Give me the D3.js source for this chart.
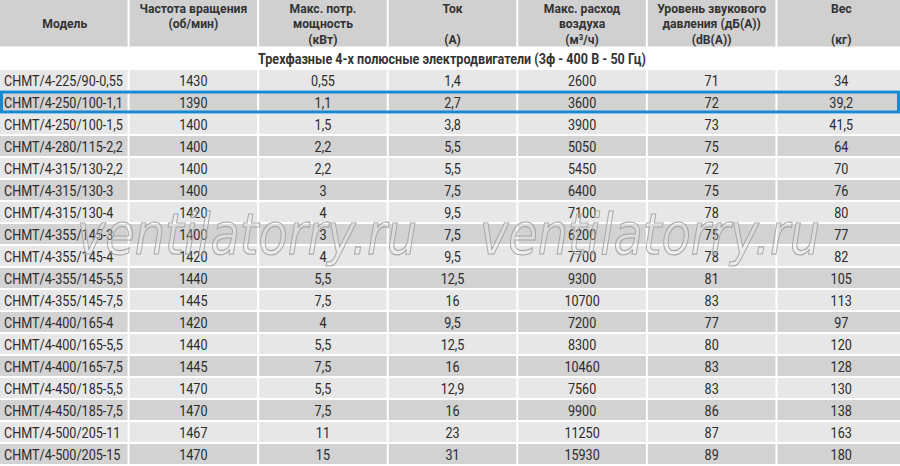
<!DOCTYPE html>
<html><head><meta charset="utf-8">
<script src="https://cdn.jsdelivr.net/npm/d3@7"></script>
<style>
html,body{margin:0;padding:0;background:#fff;}
svg{display:block;}
</style></head>
<body>
<script>
// ---- data ----
const columns = ["model","rpm","power","current","airflow","noise","weight"];
const headerLines = [
  ["", "Модель", ""],
  ["Частота вращения", "(об/мин)", ""],
  ["Макс. потр.", "мощность", "(кВт)"],
  ["Ток", "", "(А)"],
  ["Макс. расход", "воздуха", "(м³/ч)"],
  ["Уровень звукового", "давления (дБ(А))", "(dB(A))"],
  ["Вес", "", "(кг)"]
];
const sectionTitle = "Трехфазные 4-х полюсные электродвигатели (3ф - 400 В - 50 Гц)";
const models = ["CHMT/4-225/90-0,55","CHMT/4-250/100-1,1","CHMT/4-250/100-1,5","CHMT/4-280/115-2,2",
  "CHMT/4-315/130-2,2","CHMT/4-315/130-3","CHMT/4-315/130-4","CHMT/4-355/145-3","CHMT/4-355/145-4",
  "CHMT/4-355/145-5,5","CHMT/4-355/145-7,5","CHMT/4-400/165-4","CHMT/4-400/165-5,5","CHMT/4-400/165-7,5",
  "CHMT/4-450/185-5,5","CHMT/4-450/185-7,5","CHMT/4-500/205-11","CHMT/4-500/205-15"];
const rpm = [1430,1390,1400,1400,1400,1400,1420,1400,1420,1440,1445,1420,1440,1445,1470,1470,1467,1470];
const power = [0.55,1.1,1.5,2.2,2.2,3,4,3,4,5.5,7.5,4,5.5,7.5,5.5,7.5,11,15];
const current = [1.4,2.7,3.8,5.5,5.5,7.5,9.5,7.5,9.5,12.5,16,9.5,12.5,16,12.9,16,23,31];
const airflow = [2600,3600,3900,5050,5450,6400,7100,6200,7700,9300,10700,7200,8300,10460,7560,9900,11250,15930];
const noise = [71,72,73,75,72,75,78,75,78,81,83,77,80,83,83,86,87,89];
const weight = [34,39.2,41.5,64,70,76,80,77,82,105,113,97,120,128,130,138,163,180];
const highlighted = [1];
const watermark = "ventilatorry.ru";

// ---- build ----
const W = 900, H = 466;
const fmt = v => String(v).replace(".", ",");
const rows = models.map((m,i)=>({i, model:m, rpm:rpm[i], power:power[i], current:current[i],
  airflow:airflow[i], noise:noise[i], weight:weight[i]}));

const svg = d3.select("body").append("svg").attr("width",W).attr("height",H);
const FONT = "Roboto,'DejaVu Sans Condensed',sans-serif";
const SX = 0.9; // condensed look
const place = (px,py) => `translate(${px},${py}) scale(${SX},1)`;

const x = d3.scaleBand().domain(columns).range([-1, 906]);
const y = d3.scaleBand().domain(d3.range(rows.length)).range([70, 466]);
const gap = 2;
const cellX = c => Math.max(0, x(c) + (c===columns[0]?0:1));
const cellW = c => Math.min(W, x(c)+x.bandwidth()-1) - cellX(c);

const dark = "#d2d2d2", light = "#e7e7e7", headBg = "#d0d0d0", txt = "#2b2b2b";

// header
const hg = svg.append("g");
hg.selectAll("rect").data(columns).join("rect")
  .attr("x", cellX).attr("y", 0).attr("width", cellW).attr("height", 46.5)
  .attr("fill", headBg);
columns.forEach((c,ci)=>{
  headerLines[ci].forEach((line,li)=>{
    if(!line) return;
    hg.append("text").attr("transform", place(x(c)+x.bandwidth()/2 + (ci===0?1:0), 12.5 + li*15.5))
      .attr("text-anchor","middle")
      .attr("font-family",FONT).attr("font-weight","bold").attr("font-size",13.5)
      .attr("fill","#333").text(line);
  });
});

// section title
svg.append("text").attr("transform", place(452, 63.5)).attr("text-anchor","middle")
  .attr("font-family",FONT).attr("font-weight","bold").attr("font-size",14)
  .attr("fill","#333").text(sectionTitle);

// body
const rg = svg.append("g").selectAll("g").data(rows).join("g")
  .attr("transform", d=>`translate(0,${y(d.i)})`);
columns.forEach(c=>{
  rg.append("rect").attr("x", cellX(c)).attr("y",0).attr("width", cellW(c))
    .attr("height", y.step()-gap).attr("fill", d=> d.i%2 ? dark : light);
  rg.append("text")
    .attr("transform", place(c===columns[0] ? 4 : x(c)+x.bandwidth()/2, 16))
    .attr("text-anchor", c===columns[0] ? "start":"middle")
    .attr("font-family",FONT).attr("font-size",14).attr("fill",txt)
    .text(d => c==="model" ? d.model : fmt(d[c]));
});

// highlight
svg.selectAll("rect.hl").data(highlighted).join("rect").attr("class","hl")
  .attr("x",1.5).attr("y", d=>y(d)).attr("width", W-3).attr("height", y.step()-gap)
  .attr("fill","none").attr("stroke","#1689d3").attr("stroke-width",3);

// watermark (outlined text)
[77, 480].forEach(px=>{
  svg.append("text").attr("x",px).attr("y",254)
    .attr("font-family","'DejaVu Sans',sans-serif").attr("font-style","italic")
    .attr("font-weight",200).attr("font-size",57)
    .attr("textLength",340).attr("lengthAdjust","spacingAndGlyphs")
    .attr("fill","rgba(255,255,255,0.2)").attr("stroke","#a6a6a6").attr("stroke-width",1.1)
    .text(watermark);
});
</script>
</body></html>
